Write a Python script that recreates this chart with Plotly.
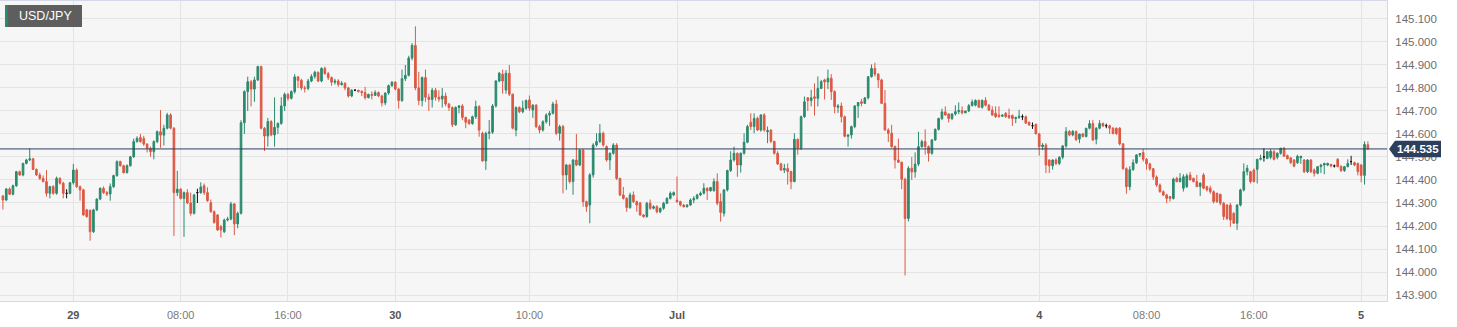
import pandas as pd
import plotly.graph_objects as go

# USD/JPY 15-minute bars (market closed Fri 21:00 -> Sun 21:00)
TIMES = list(pd.date_range("2023-06-28 18:45", "2023-06-30 20:45", freq="15min")) + \
        list(pd.date_range("2023-07-02 21:00", "2023-07-05 00:30", freq="15min"))

OPEN = [
    144.330, 144.313, 144.361, 144.338, 144.375, 144.436, 144.422, 144.472, 144.487, 144.492,
    144.446, 144.422, 144.407, 144.393, 144.342, 144.371, 144.342, 144.407, 144.386, 144.342,
    144.342, 144.388, 144.443, 144.371, 144.357, 144.270, 144.268, 144.175, 144.270, 144.317,
    144.364, 144.345, 144.339, 144.371, 144.419, 144.480, 144.462, 144.432, 144.462, 144.501,
    144.567, 144.585, 144.580, 144.556, 144.538, 144.523, 144.567, 144.610, 144.595, 144.625,
    144.683, 144.625, 144.345, 144.360, 144.320, 144.345, 144.300, 144.255, 144.345, 144.345,
    144.375, 144.345, 144.301, 144.262, 144.248, 144.197, 144.175, 144.226, 144.230, 144.296,
    144.209, 144.255, 144.649, 144.784, 144.827, 144.795, 144.835, 144.893, 144.625, 144.591,
    144.654, 144.596, 144.629, 144.646, 144.722, 144.772, 144.755, 144.784, 144.848, 144.833,
    144.800, 144.798, 144.830, 144.850, 144.868, 144.830, 144.885, 144.862, 144.845, 144.825,
    144.830, 144.815, 144.820, 144.800, 144.765, 144.790, 144.790, 144.785, 144.780, 144.758,
    144.772, 144.768, 144.780, 144.765, 144.735, 144.778, 144.810, 144.825, 144.795, 144.745,
    144.840, 144.855, 144.930, 144.985, 144.800, 144.745, 144.845, 144.760, 144.750, 144.790,
    144.760, 144.752, 144.765, 144.730, 144.715, 144.640, 144.715, 144.722, 144.672, 144.660,
    144.645, 144.675, 144.719, 144.603, 144.483, 144.603, 144.608, 144.722, 144.830, 144.860,
    144.791, 144.864, 144.773, 144.617, 144.715, 144.697, 144.712, 144.748, 144.704, 144.725,
    144.632, 144.617, 144.653, 144.682, 144.690, 144.730, 144.603, 144.632, 144.422, 144.465,
    144.393, 144.487, 144.465, 144.530, 144.306, 144.291, 144.422, 144.552, 144.567, 144.603,
    144.545, 144.487, 144.516, 144.552, 144.407, 144.335, 144.320, 144.280, 144.335, 144.306,
    144.300, 144.248, 144.241, 144.299, 144.277, 144.284, 144.262, 144.277, 144.299, 144.320,
    144.335, 144.313, 144.306, 144.291, 144.284, 144.291, 144.313, 144.320, 144.335, 144.342,
    144.364, 144.353, 144.353, 144.393, 144.306, 144.255, 144.357, 144.441, 144.487, 144.516,
    144.465, 144.516, 144.564, 144.651, 144.632, 144.668, 144.617, 144.683, 144.610, 144.617,
    144.568, 144.516, 144.470, 144.443, 144.450, 144.437, 144.393, 144.577, 144.538, 144.675,
    144.757, 144.745, 144.762, 144.755, 144.798, 144.835, 144.826, 144.842, 144.784, 144.716,
    144.722, 144.675, 144.590, 144.596, 144.632, 144.722, 144.740, 144.733, 144.757, 144.849,
    144.885, 144.860, 144.835, 144.733, 144.617, 144.603, 144.545, 144.487, 144.477, 144.403,
    144.233, 144.451, 144.435, 144.469, 144.545, 144.567, 144.545, 144.516, 144.574, 144.620,
    144.667, 144.696, 144.687, 144.667, 144.687, 144.697, 144.702, 144.692, 144.700, 144.723,
    144.725, 144.746, 144.716, 144.746, 144.725, 144.704, 144.690, 144.682, 144.677, 144.690,
    144.680, 144.680, 144.667, 144.672, 144.675, 144.675, 144.650, 144.636, 144.642, 144.600,
    144.545, 144.552, 144.487, 144.462, 144.487, 144.472, 144.499, 144.548, 144.611, 144.596,
    144.611, 144.578, 144.600, 144.589, 144.625, 144.645, 144.577, 144.625, 144.645, 144.636,
    144.636, 144.625, 144.625, 144.625, 144.557, 144.449, 144.371, 144.445, 144.475, 144.509,
    144.519, 144.490, 144.470, 144.449, 144.413, 144.378, 144.349, 144.335, 144.328, 144.320,
    144.407, 144.393, 144.364, 144.371, 144.422, 144.407, 144.393, 144.371, 144.422, 144.371,
    144.364, 144.349, 144.342, 144.338, 144.299, 144.291, 144.291, 144.255, 144.212, 144.291,
    144.357, 144.436, 144.436, 144.443, 144.446, 144.490, 144.500, 144.494, 144.499, 144.523,
    144.499, 144.516, 144.538, 144.506, 144.496, 144.487, 144.475, 144.496, 144.487, 144.436,
    144.487, 144.443, 144.429, 144.458, 144.465, 144.465, 144.468, 144.461, 144.490, 144.458,
    144.441, 144.458, 144.480, 144.475, 144.472, 144.465, 144.420, 144.553,
]

HIGH = [
    144.335, 144.365, 144.368, 144.380, 144.440, 144.441, 144.475, 144.492, 144.538, 144.496,
    144.450, 144.432, 144.420, 144.443, 144.375, 144.378, 144.415, 144.412, 144.392, 144.360,
    144.392, 144.470, 144.450, 144.376, 144.362, 144.275, 144.272, 144.275, 144.320, 144.368,
    144.372, 144.352, 144.385, 144.423, 144.485, 144.484, 144.466, 144.468, 144.505, 144.580,
    144.590, 144.600, 144.592, 144.560, 144.545, 144.572, 144.615, 144.704, 144.640, 144.692,
    144.690, 144.630, 144.440, 144.365, 144.350, 144.360, 144.345, 144.340, 144.362, 144.390,
    144.385, 144.368, 144.315, 144.268, 144.252, 144.205, 144.232, 144.240, 144.305, 144.300,
    144.262, 144.660, 144.790, 144.849, 144.835, 144.849, 144.897, 144.897, 144.630, 144.670,
    144.660, 144.759, 144.650, 144.760, 144.780, 144.778, 144.790, 144.860, 144.852, 144.840,
    144.810, 144.840, 144.860, 144.875, 144.872, 144.890, 144.893, 144.870, 144.850, 144.840,
    144.838, 144.830, 144.825, 144.805, 144.795, 144.795, 144.792, 144.790, 144.805, 144.775,
    144.785, 144.790, 144.785, 144.770, 144.780, 144.815, 144.830, 144.830, 144.800, 144.880,
    144.900, 144.940, 144.995, 145.068, 144.870, 144.850, 144.880, 144.775, 144.800, 144.800,
    144.790, 144.800, 144.780, 144.735, 144.720, 144.720, 144.725, 144.730, 144.675, 144.665,
    144.680, 144.745, 144.725, 144.610, 144.610, 144.661, 144.730, 144.835, 144.870, 144.880,
    144.878, 144.900, 144.775, 144.720, 144.720, 144.745, 144.750, 144.767, 144.730, 144.730,
    144.640, 144.660, 144.690, 144.700, 144.740, 144.748, 144.640, 144.640, 144.470, 144.470,
    144.490, 144.600, 144.535, 144.535, 144.310, 144.430, 144.560, 144.603, 144.643, 144.610,
    144.550, 144.520, 144.560, 144.560, 144.410, 144.370, 144.325, 144.345, 144.350, 144.310,
    144.305, 144.252, 144.305, 144.315, 144.290, 144.290, 144.280, 144.305, 144.325, 144.350,
    144.350, 144.415, 144.310, 144.295, 144.295, 144.320, 144.330, 144.340, 144.350, 144.386,
    144.368, 144.370, 144.407, 144.429, 144.342, 144.360, 144.445, 144.525, 144.545, 144.520,
    144.520, 144.603, 144.640, 144.690, 144.690, 144.675, 144.685, 144.690, 144.632, 144.620,
    144.570, 144.525, 144.475, 144.470, 144.472, 144.440, 144.603, 144.580, 144.680, 144.763,
    144.760, 144.792, 144.820, 144.850, 144.835, 144.840, 144.880, 144.860, 144.790, 144.730,
    144.737, 144.680, 144.595, 144.636, 144.725, 144.737, 144.753, 144.760, 144.852, 144.902,
    144.910, 144.865, 144.840, 144.791, 144.625, 144.640, 144.550, 144.580, 144.480, 144.410,
    144.460, 144.500, 144.520, 144.610, 144.575, 144.620, 144.550, 144.578, 144.624, 144.671,
    144.710, 144.720, 144.690, 144.690, 144.725, 144.737, 144.720, 144.700, 144.730, 144.750,
    144.750, 144.750, 144.750, 144.760, 144.730, 144.720, 144.720, 144.720, 144.685, 144.695,
    144.710, 144.685, 144.675, 144.705, 144.685, 144.680, 144.655, 144.650, 144.645, 144.605,
    144.560, 144.560, 144.490, 144.490, 144.495, 144.503, 144.552, 144.630, 144.617, 144.617,
    144.615, 144.600, 144.605, 144.625, 144.660, 144.660, 144.630, 144.660, 144.650, 144.645,
    144.640, 144.630, 144.628, 144.630, 144.560, 144.455, 144.460, 144.490, 144.512, 144.515,
    144.535, 144.495, 144.475, 144.452, 144.420, 144.385, 144.355, 144.340, 144.330, 144.410,
    144.414, 144.430, 144.425, 144.428, 144.435, 144.410, 144.422, 144.390, 144.430, 144.375,
    144.375, 144.355, 144.345, 144.340, 144.305, 144.295, 144.300, 144.260, 144.295, 144.362,
    144.472, 144.465, 144.440, 144.450, 144.490, 144.510, 144.538, 144.526, 144.535, 144.530,
    144.520, 144.540, 144.543, 144.510, 144.500, 144.490, 144.510, 144.505, 144.490, 144.490,
    144.490, 144.450, 144.460, 144.470, 144.475, 144.475, 144.470, 144.467, 144.495, 144.465,
    144.460, 144.490, 144.505, 144.480, 144.475, 144.470, 144.568, 144.568,
]

LOW = [
    144.272, 144.308, 144.335, 144.333, 144.370, 144.418, 144.416, 144.468, 144.482, 144.444,
    144.418, 144.400, 144.390, 144.328, 144.320, 144.336, 144.336, 144.380, 144.320, 144.320,
    144.338, 144.380, 144.365, 144.310, 144.245, 144.236, 144.136, 144.170, 144.265, 144.312,
    144.340, 144.330, 144.310, 144.366, 144.414, 144.458, 144.428, 144.428, 144.458, 144.496,
    144.562, 144.562, 144.548, 144.520, 144.501, 144.490, 144.560, 144.540, 144.550, 144.620,
    144.620, 144.157, 144.330, 144.315, 144.153, 144.295, 144.245, 144.250, 144.300, 144.340,
    144.335, 144.305, 144.258, 144.210, 144.178, 144.150, 144.170, 144.220, 144.225, 144.160,
    144.190, 144.250, 144.600, 144.700, 144.720, 144.740, 144.830, 144.620, 144.526, 144.545,
    144.590, 144.545, 144.600, 144.640, 144.700, 144.745, 144.750, 144.775, 144.800, 144.790,
    144.780, 144.790, 144.825, 144.840, 144.825, 144.825, 144.858, 144.835, 144.810, 144.815,
    144.805, 144.810, 144.790, 144.758, 144.760, 144.786, 144.780, 144.765, 144.750, 144.755,
    144.750, 144.765, 144.760, 144.720, 144.725, 144.770, 144.805, 144.790, 144.710, 144.740,
    144.830, 144.850, 144.920, 144.790, 144.725, 144.720, 144.740, 144.700, 144.715, 144.745,
    144.740, 144.715, 144.720, 144.700, 144.630, 144.635, 144.690, 144.660, 144.625, 144.640,
    144.640, 144.665, 144.588, 144.480, 144.444, 144.577, 144.600, 144.715, 144.825, 144.775,
    144.775, 144.765, 144.620, 144.590, 144.690, 144.690, 144.705, 144.700, 144.670, 144.625,
    144.603, 144.610, 144.645, 144.635, 144.685, 144.595, 144.571, 144.342, 144.357, 144.385,
    144.336, 144.460, 144.460, 144.284, 144.262, 144.212, 144.410, 144.545, 144.560, 144.545,
    144.480, 144.443, 144.510, 144.400, 144.330, 144.315, 144.262, 144.275, 144.300, 144.262,
    144.245, 144.236, 144.236, 144.270, 144.272, 144.255, 144.255, 144.270, 144.295, 144.315,
    144.330, 144.300, 144.285, 144.280, 144.280, 144.288, 144.299, 144.315, 144.330, 144.338,
    144.313, 144.350, 144.350, 144.290, 144.219, 144.241, 144.350, 144.435, 144.480, 144.414,
    144.432, 144.510, 144.560, 144.617, 144.603, 144.613, 144.610, 144.610, 144.560, 144.560,
    144.510, 144.465, 144.440, 144.430, 144.380, 144.360, 144.390, 144.510, 144.530, 144.670,
    144.700, 144.720, 144.680, 144.720, 144.795, 144.750, 144.795, 144.748, 144.690, 144.692,
    144.650, 144.585, 144.545, 144.580, 144.625, 144.670, 144.720, 144.730, 144.750, 144.845,
    144.850, 144.800, 144.730, 144.615, 144.565, 144.540, 144.450, 144.475, 144.360, 143.985,
    144.220, 144.400, 144.410, 144.460, 144.540, 144.510, 144.480, 144.510, 144.570, 144.615,
    144.660, 144.680, 144.650, 144.660, 144.680, 144.686, 144.685, 144.690, 144.695, 144.720,
    144.720, 144.714, 144.710, 144.720, 144.700, 144.680, 144.670, 144.670, 144.674, 144.670,
    144.665, 144.635, 144.647, 144.665, 144.660, 144.645, 144.635, 144.622, 144.600, 144.506,
    144.530, 144.430, 144.430, 144.445, 144.465, 144.465, 144.490, 144.540, 144.590, 144.590,
    144.570, 144.560, 144.585, 144.585, 144.620, 144.570, 144.555, 144.620, 144.630, 144.625,
    144.600, 144.598, 144.595, 144.550, 144.445, 144.340, 144.355, 144.440, 144.470, 144.500,
    144.480, 144.445, 144.440, 144.400, 144.370, 144.345, 144.330, 144.299, 144.306, 144.315,
    144.390, 144.390, 144.350, 144.365, 144.400, 144.390, 144.370, 144.330, 144.360, 144.350,
    144.340, 144.298, 144.300, 144.290, 144.226, 144.225, 144.197, 144.211, 144.183, 144.285,
    144.350, 144.420, 144.385, 144.390, 144.385, 144.485, 144.480, 144.490, 144.490, 144.485,
    144.490, 144.510, 144.500, 144.490, 144.470, 144.455, 144.470, 144.470, 144.430, 144.430,
    144.430, 144.415, 144.425, 144.430, 144.425, 144.460, 144.455, 144.454, 144.455, 144.435,
    144.435, 144.455, 144.465, 144.460, 144.420, 144.390, 144.380, 144.530,
]

CLOSE = [
    144.313, 144.361, 144.338, 144.375, 144.436, 144.422, 144.472, 144.487, 144.492, 144.446,
    144.422, 144.407, 144.393, 144.342, 144.371, 144.342, 144.407, 144.386, 144.342, 144.342,
    144.388, 144.443, 144.371, 144.357, 144.248, 144.241, 144.175, 144.270, 144.317, 144.364,
    144.345, 144.339, 144.371, 144.419, 144.480, 144.462, 144.432, 144.462, 144.501, 144.567,
    144.581, 144.567, 144.556, 144.538, 144.523, 144.567, 144.610, 144.595, 144.625, 144.683,
    144.625, 144.345, 144.360, 144.320, 144.345, 144.300, 144.255, 144.335, 144.345, 144.370,
    144.345, 144.310, 144.262, 144.215, 144.183, 144.183, 144.226, 144.230, 144.296, 144.209,
    144.255, 144.649, 144.784, 144.827, 144.795, 144.835, 144.893, 144.625, 144.591, 144.654,
    144.596, 144.629, 144.646, 144.722, 144.772, 144.755, 144.784, 144.848, 144.833, 144.800,
    144.798, 144.830, 144.850, 144.868, 144.830, 144.885, 144.862, 144.845, 144.825, 144.830,
    144.815, 144.820, 144.800, 144.765, 144.790, 144.790, 144.785, 144.780, 144.758, 144.772,
    144.768, 144.780, 144.765, 144.735, 144.778, 144.810, 144.825, 144.795, 144.745, 144.840,
    144.855, 144.930, 144.985, 144.800, 144.745, 144.845, 144.760, 144.750, 144.790, 144.760,
    144.752, 144.765, 144.730, 144.715, 144.640, 144.715, 144.722, 144.672, 144.651, 144.645,
    144.675, 144.719, 144.617, 144.483, 144.603, 144.608, 144.722, 144.830, 144.864, 144.830,
    144.864, 144.773, 144.625, 144.715, 144.697, 144.712, 144.745, 144.712, 144.725, 144.632,
    144.617, 144.653, 144.682, 144.690, 144.730, 144.603, 144.632, 144.422, 144.465, 144.393,
    144.487, 144.465, 144.530, 144.306, 144.284, 144.422, 144.552, 144.567, 144.603, 144.552,
    144.487, 144.516, 144.552, 144.407, 144.335, 144.320, 144.280, 144.335, 144.306, 144.291,
    144.248, 144.241, 144.299, 144.277, 144.284, 144.262, 144.277, 144.299, 144.320, 144.342,
    144.345, 144.306, 144.291, 144.284, 144.291, 144.313, 144.320, 144.335, 144.342, 144.364,
    144.353, 144.367, 144.393, 144.299, 144.259, 144.357, 144.441, 144.487, 144.516, 144.465,
    144.516, 144.564, 144.632, 144.632, 144.668, 144.617, 144.683, 144.617, 144.615, 144.568,
    144.516, 144.470, 144.443, 144.450, 144.437, 144.393, 144.577, 144.538, 144.675, 144.740,
    144.745, 144.757, 144.755, 144.798, 144.827, 144.826, 144.842, 144.784, 144.719, 144.722,
    144.675, 144.590, 144.596, 144.632, 144.722, 144.737, 144.733, 144.757, 144.849, 144.885,
    144.860, 144.835, 144.733, 144.617, 144.603, 144.545, 144.487, 144.477, 144.403, 144.233,
    144.451, 144.435, 144.469, 144.545, 144.567, 144.545, 144.516, 144.574, 144.620, 144.667,
    144.696, 144.682, 144.667, 144.687, 144.697, 144.702, 144.692, 144.700, 144.723, 144.739,
    144.746, 144.716, 144.746, 144.725, 144.704, 144.682, 144.675, 144.677, 144.682, 144.675,
    144.672, 144.667, 144.672, 144.677, 144.675, 144.647, 144.640, 144.636, 144.600, 144.545,
    144.552, 144.465, 144.462, 144.487, 144.472, 144.499, 144.548, 144.611, 144.596, 144.611,
    144.575, 144.600, 144.589, 144.625, 144.645, 144.574, 144.625, 144.645, 144.635, 144.636,
    144.625, 144.602, 144.602, 144.557, 144.449, 144.371, 144.445, 144.475, 144.509, 144.515,
    144.490, 144.470, 144.449, 144.413, 144.378, 144.349, 144.335, 144.320, 144.320, 144.404,
    144.393, 144.407, 144.414, 144.418, 144.400, 144.393, 144.371, 144.386, 144.364, 144.357,
    144.349, 144.306, 144.306, 144.299, 144.241, 144.233, 144.226, 144.212, 144.291, 144.357,
    144.436, 144.451, 144.393, 144.393, 144.490, 144.494, 144.500, 144.523, 144.525, 144.490,
    144.516, 144.538, 144.503, 144.492, 144.475, 144.460, 144.503, 144.503, 144.436, 144.487,
    144.436, 144.429, 144.458, 144.465, 144.472, 144.472, 144.461, 144.461, 144.458, 144.441,
    144.458, 144.472, 144.480, 144.465, 144.436, 144.420, 144.555, 144.535,
]

TICK_TIMES = ["2023-06-29 00:00", "2023-06-29 08:00", "2023-06-29 16:00", "2023-06-30 00:00",
              "2023-06-30 10:00", "2023-07-02 21:00", "2023-07-04 00:00", "2023-07-04 08:00",
              "2023-07-04 16:00", "2023-07-05 00:00"]
TICK_LABELS = ["29", "08:00", "16:00", "30", "10:00", "Jul", "4", "08:00", "16:00", "5"]
DAY_LABELS = {"29", "30", "Jul", "4", "5"}

SYMBOL = "USD/JPY"
LAST = CLOSE[-1]

assert len(TIMES) == len(OPEN) == len(HIGH) == len(LOW) == len(CLOSE)

UP = "#2b8a6e"
DOWN = "#dc5944"
NAVY = "#2c3f5e"
FONT = "Liberation Sans, Arial, Helvetica, sans-serif"

# Bars are laid out on a gap-free index axis (no weekend hole)
pos = list(range(len(TIMES)))
doji = [i for i in pos if OPEN[i] == CLOSE[i]]
body = [i for i in pos if OPEN[i] != CLOSE[i]]

def pick(seq, idx):
    return [seq[i] for i in idx]

fig = go.Figure()
fig.add_trace(go.Candlestick(
    x=body, open=pick(OPEN, body), high=pick(HIGH, body),
    low=pick(LOW, body), close=pick(CLOSE, body),
    increasing=dict(line=dict(color=UP, width=1), fillcolor=UP),
    decreasing=dict(line=dict(color=DOWN, width=1), fillcolor=DOWN),
    whiskerwidth=0, hoverinfo="skip", showlegend=False,
))
fig.add_trace(go.Candlestick(
    x=doji, open=pick(OPEN, doji), high=pick(HIGH, doji),
    low=pick(LOW, doji), close=pick(CLOSE, doji),
    increasing=dict(line=dict(color="#111111", width=1), fillcolor="#111111"),
    decreasing=dict(line=dict(color="#111111", width=1), fillcolor="#111111"),
    whiskerwidth=0, hoverinfo="skip", showlegend=False,
))

tick_pos = [TIMES.index(pd.Timestamp(t)) for t in TICK_TIMES]
tick_text = [f"<b><span style='color:#555555'>{t}</span></b>" if t in DAY_LABELS else t
             for t in TICK_LABELS]

W, H = 1457, 327
M_L, M_R, M_T, M_B = 0, 70, 1, 26
PW = W - M_L - M_R
PH = H - M_T - M_B
Y0, Y1 = 143.874, 145.178
X0, X1 = -0.865, 412.7

def px_x(px):
    return (px - M_L) / PW

def px_y(py):
    return (H - M_B - py) / PH

fig.update_layout(
    width=W, height=H,
    margin=dict(l=M_L, r=M_R, t=M_T, b=M_B),
    paper_bgcolor="#ffffff",
    plot_bgcolor="#f6f6f6",
    font=dict(family=FONT, size=11, color="#777777"),
    boxgap=0.3,
    xaxis=dict(
        range=[X0, X1], tickmode="array", tickvals=tick_pos, ticktext=tick_text,
        showgrid=True, gridcolor="#e4e4e4", gridwidth=1, zeroline=False,
        showline=True, linecolor="#d4d8e8", linewidth=1, mirror=True,
        ticks="outside", ticklen=4, tickcolor="rgba(0,0,0,0)",
        tickfont=dict(size=11, color="#7a7a7a"),
        rangeslider=dict(visible=False), fixedrange=True,
    ),
    yaxis=dict(
        side="right", range=[Y0, Y1], tick0=143.9, dtick=0.1, tickformat=".3f",
        showgrid=True, gridcolor="#e4e4e4", gridwidth=1, zeroline=False,
        showline=True, linecolor="#d4d8e8", linewidth=1, mirror=True,
        ticks="outside", ticklen=5, tickcolor="rgba(0,0,0,0)",
        tickfont=dict(size=11.5, color="#6e6e6e"), fixedrange=True,
    ),
)

# last-price line and tag
fig.add_shape(type="line", xref="paper", yref="y", x0=0, x1=1, y0=LAST, y1=LAST,
              line=dict(color=NAVY, width=1), layer="above")
yc = (LAST - Y0) / (Y1 - Y0)
hh = 8.3 / PH
tip, bx0, bx1 = px_x(1389), px_x(1395), px_x(1441)
fig.add_shape(type="path", xref="paper", yref="paper",
              path=f"M {tip} {yc} L {bx0} {yc + hh} L {bx1} {yc + hh} L {bx1} {yc - hh} L {bx0} {yc - hh} Z",
              fillcolor=NAVY, line=dict(width=0), layer="above")
fig.add_annotation(xref="paper", yref="y", x=px_x(1418), y=LAST, text=f"<b>{LAST:.3f}</b>",
                   showarrow=False, xanchor="center", yanchor="middle",
                   font=dict(family=FONT, size=11.5, color="#ffffff"))

# symbol badge
fig.add_shape(type="rect", xref="paper", yref="paper",
              x0=px_x(5), x1=px_x(82), y0=px_y(27), y1=px_y(5),
              fillcolor="#5e5e5e", line=dict(width=0), layer="above")
fig.add_shape(type="rect", xref="paper", yref="paper",
              x0=px_x(5), x1=px_x(7.7), y0=px_y(27), y1=px_y(5),
              fillcolor=UP, line=dict(width=0), layer="above")
fig.add_annotation(xref="paper", yref="paper", x=px_x(17), y=px_y(16), text=SYMBOL,
                   showarrow=False, xanchor="left", yanchor="middle",
                   font=dict(family=FONT, size=12.5, color="#ffffff"))

fig.write_html("out.html")
